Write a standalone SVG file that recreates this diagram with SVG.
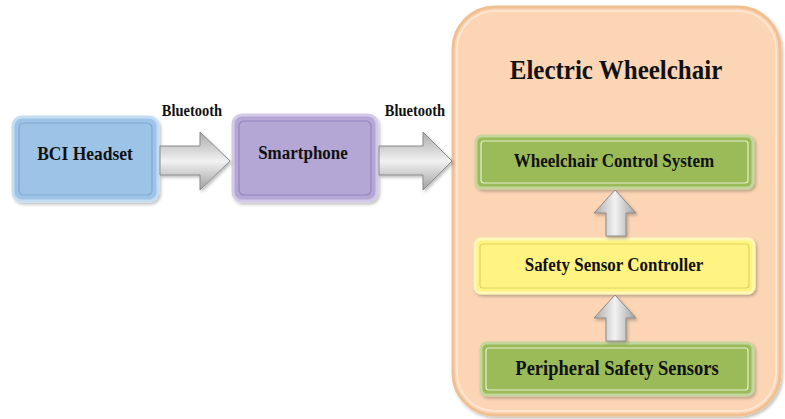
<svg xmlns="http://www.w3.org/2000/svg" width="785" height="419" viewBox="0 0 785 419">
<defs>
<linearGradient id="gh" x1="0" y1="0" x2="0" y2="1">
<stop offset="0" stop-color="#a9a9a9"/><stop offset="0.5" stop-color="#f2f2f2"/><stop offset="1" stop-color="#a0a0a0"/>
</linearGradient>
<linearGradient id="gv" x1="0" y1="0" x2="1" y2="0">
<stop offset="0" stop-color="#a9a9a9"/><stop offset="0.5" stop-color="#f2f2f2"/><stop offset="1" stop-color="#a0a0a0"/>
</linearGradient>
<filter id="sh" x="-10%" y="-10%" width="130%" height="130%">
<feDropShadow dx="1.5" dy="2" stdDeviation="1.5" flood-color="#000" flood-opacity="0.25"/>
</filter>
</defs>
<style>
text{font-family:"Liberation Serif","Times New Roman",serif;font-weight:bold;fill:#111;text-anchor:middle}
.lbl{font-size:17px}
.bt{font-size:14.5px}
.arr{fill:url(#gh);stroke:#8a8a8a;stroke-width:1}
.varr{fill:url(#gv);stroke:#8a8a8a;stroke-width:1}
.inner{fill:none;stroke-width:1.2}
</style>
<rect width="785" height="419" fill="#fff"/>
<g id="wheelchair">
<rect x="453" y="7" width="327" height="408" rx="42" fill="#fcd5b5" stroke="#f0c090" stroke-width="3" filter="url(#sh)"/>
<rect x="457" y="11" width="319" height="400" rx="38" fill="none" stroke="#fde9d9" stroke-width="1.5"/>
<text transform="translate(616 79) scale(1 1.12)" style="font-size:25px">Electric Wheelchair</text>
</g>
<g id="bci">
<rect x="13" y="117" width="145" height="84" rx="9" fill="#9dc3e6" stroke="#c5ddf2" stroke-width="3" filter="url(#sh)"/>
<rect x="19" y="123" width="133" height="72" rx="5" class="inner" stroke="#7fa9d2"/>
<text transform="translate(85 160) scale(1 1.12)" style="font-size:17.5px">BCI Headset</text>
</g>
<g id="smartphone">
<rect x="233" y="115" width="144" height="86" rx="9" fill="#b4a7d6" stroke="#d3cae8" stroke-width="3" filter="url(#sh)"/>
<rect x="239" y="121" width="132" height="74" rx="5" class="inner" stroke="#9384bd"/>
<text transform="translate(303 159) scale(1 1.12)" class="lbl">Smartphone</text>
</g>
<g id="wcs">
<rect x="476" y="136" width="277" height="52" rx="6" fill="#9bbb59" stroke="#c3d69b" stroke-width="3" filter="url(#sh)"/>
<rect x="481" y="141" width="267" height="42" rx="3" class="inner" stroke="#e4eed0"/>
<text transform="translate(614 167) scale(1 1.12)" class="lbl">Wheelchair Control System</text>
</g>
<g id="ssc">
<rect x="475" y="239" width="279" height="54" rx="6" fill="#fff382" stroke="#fff8b8" stroke-width="3" filter="url(#sh)"/>
<rect x="480" y="244" width="269" height="44" rx="3" class="inner" stroke="#e2d35a"/>
<text transform="translate(614 271) scale(1 1.12)" class="lbl">Safety Sensor Controller</text>
</g>
<g id="pss">
<rect x="481" y="343" width="272" height="52" rx="6" fill="#9bbb59" stroke="#c3d69b" stroke-width="3" filter="url(#sh)"/>
<rect x="486" y="348" width="262" height="42" rx="3" class="inner" stroke="#e4eed0"/>
<text transform="translate(617 375) scale(1 1.12)" style="font-size:18.5px">Peripheral Safety Sensors</text>
</g>
<g id="connectors">
<path class="arr" d="M160 146 H200 V132 L230 161 L200 190 V175 H160 Z" filter="url(#sh)"/>
<text transform="translate(192 116) scale(1 1.12)" class="bt">Bluetooth</text>
<path class="arr" d="M379 146 H423 V132 L452 161 L423 190 V175 H379 Z" filter="url(#sh)"/>
<text transform="translate(415 116) scale(1 1.12)" class="bt">Bluetooth</text>
<path class="varr" d="M606 236 V213 H594 L615 190 L636 213 H626 V236 Z" filter="url(#sh)"/>
<path class="varr" d="M606 341 V318 H594 L615 295 L636 318 H626 V341 Z" filter="url(#sh)"/>
</g>
</svg>
